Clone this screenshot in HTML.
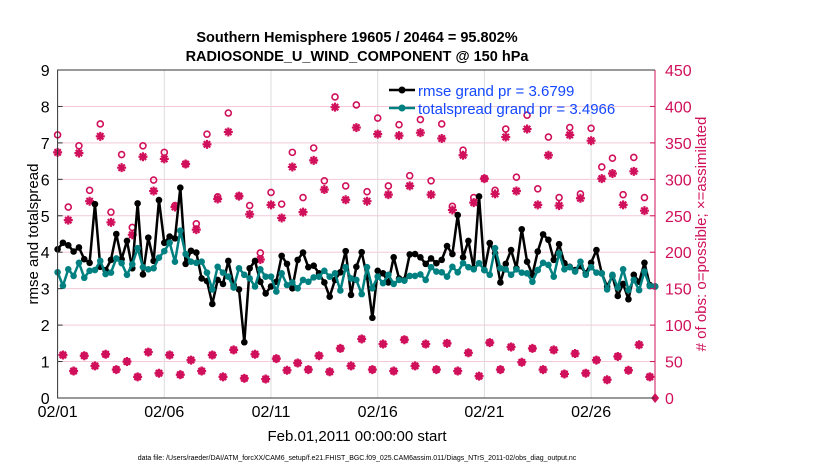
<!DOCTYPE html>
<html><head><meta charset="utf-8"><style>
body{margin:0;background:#fff;}
svg{display:block;font-family:"Liberation Sans",sans-serif;}
</style></head><body>
<svg id="chart" width="830" height="470" viewBox="0 0 830 470" xmlns="http://www.w3.org/2000/svg">
<text x="357" y="42" text-anchor="middle" font-size="14.5" font-weight="bold">Southern Hemisphere 19605 / 20464 = 95.802%</text>
<text x="357" y="61" text-anchor="middle" font-size="14.5" font-weight="bold">RADIOSONDE_U_WIND_COMPONENT @ 150 hPa</text>
<g id="grid"></g>
<g id="obs"></g>
<g id="lines"></g>
<g id="axes"></g>
<text transform="translate(38,234) rotate(-90)" text-anchor="middle" font-size="15">rmse and totalspread</text>
<text transform="translate(706,234) rotate(-90)" text-anchor="middle" font-size="15" fill="#d0105a"># of obs: o=possible; ×=assimilated</text>
<text x="357" y="441" text-anchor="middle" font-size="15">Feb.01,2011 00:00:00 start</text>
<text x="357" y="460" text-anchor="middle" font-size="7">data file: /Users/raeder/DAI/ATM_forcXX/CAM6_setup/f.e21.FHIST_BGC.f09_025.CAM6assim.011/Diags_NTrS_2011-02/obs_diag_output.nc</text>
<g id="legend">
<line x1="389" y1="90" x2="415" y2="90" stroke="#000" stroke-width="2.5"/>
<circle cx="402" cy="90" r="3.5" fill="#000"/>
<text x="418" y="96" font-size="15" fill="#1447ff">rmse grand pr = 3.6799</text>
<line x1="389" y1="108" x2="415" y2="108" stroke="#008080" stroke-width="2.5"/>
<circle cx="402" cy="108" r="3.5" fill="#008080"/>
<text x="418" y="114" font-size="15" fill="#1447ff">totalspread grand pr = 3.4966</text>
</g>
</svg>
<script>
const xTickLabels = ["02/01","02/06","02/11","02/16","02/21","02/26"];
const yLeftTicks = [0,1,2,3,4,5,6,7,8,9];
const yRightTicks = [0,50,100,150,200,250,300,350,400,450];
const rmse = [4.08,4.26,4.19,4.02,4.13,3.81,3.71,5.32,3.6,3.51,3.79,4.5,3.81,4.31,3.56,5.34,3.39,4.4,3.76,5.43,4.26,4.43,4.38,5.77,3.68,4.04,3.99,3.28,3.21,2.58,3.24,3.13,3.76,3.1,2.98,1.53,3.56,3.76,3.19,
2.87,3.06,3.19,3.9,3.68,3.01,3.79,3.99,3.59,3.63,3.42,3.17,2.78,3.24,3.45,4.03,2.83,3.6,4.0,3.33,2.2,3.49,3.42,3.17,3.86,3.28,3.24,3.94,3.95,3.86,3.68,3.83,3.7,3.79,4.17,3.95,5.02,3.86,
4.31,3.56,5.53,3.51,4.25,3.97,3.17,3.68,4.06,3.56,4.63,3.74,3.38,4.02,4.49,4.34,3.79,4.22,3.7,3.6,3.51,3.62,3.42,3.71,4.06,3.42,3.06,3.35,2.8,3.13,2.71,3.38,3.19,3.71,3.1,3.06];
const totalspread = [3.45,3.08,3.53,3.35,3.71,3.3,3.49,3.51,3.76,3.4,3.44,3.83,3.7,3.38,3.67,4.11,3.59,3.53,3.56,3.85,4.03,4.26,3.74,4.59,3.95,3.74,3.71,3.74,3.44,2.98,3.6,3.44,3.33,3.03,3.56,3.38,3.28,3.06,3.53,
3.33,3.33,2.92,3.42,3.1,3.17,3.01,3.24,3.19,3.31,3.33,3.49,3.33,3.42,2.95,3.59,3.28,3.24,2.85,3.59,3.01,3.33,3.15,3.38,3.13,3.24,3.22,3.35,3.35,3.39,3.24,3.59,3.47,3.45,3.33,3.6,3.45,3.7,
3.59,3.53,3.7,3.51,3.38,4.11,3.56,3.53,3.38,3.53,3.44,3.42,3.19,3.51,3.71,3.65,3.33,3.97,3.53,3.59,3.47,3.74,3.38,3.59,3.44,3.42,2.98,3.38,3.03,3.53,2.96,3.24,2.96,3.47,3.07,3.06];
const obsPossible = [361,59,262,37,346,58,285,44,376,60,255,39,334,50,234,29,346,63,299,34,337,59,264,32,321,52,239,37,362,59,276,29,391,66,277,27,264,60,199,26,282,54,266,38,337,48,275,39,343,58,298,36,413,68,291,44,402,81,283,39,384,74,291,37,375,80,305,44,382,74,298,39,376,75,263,37,340,62,275,30,301,76,285,39,369,70,303,49,388,68,287,39,358,66,275,33,371,61,280,34,370,52,317,25,329,57,279,38,330,73,275,29,0];
const obsAssimilated = [337,59,244,37,336,58,270,44,359,60,241,39,316,50,224,29,331,63,284,34,328,59,262,32,321,52,231,37,348,59,273,29,365,66,277,27,252,60,190,26,265,54,247,38,317,48,255,39,326,58,286,36,399,68,272,44,371,81,270,39,362,74,279,37,360,80,291,44,364,74,279,39,356,75,258,37,333,62,268,30,301,76,280,39,358,70,284,49,369,68,265,39,333,66,264,33,361,61,274,34,353,52,301,25,308,57,265,38,311,73,257,29,0];
const stepDays = 0.25;

const NS = "http://www.w3.org/2000/svg";
const X0 = 57.6, X1 = 655, Y0 = 398, Y1 = 70;
const dayPx = 21.34;
function xScale(day){ return X0 + day*dayPx; }
function yLeft(v){ return Y0 - v*(Y0-Y1)/9; }
function yRight(n){ return Y0 - n*(Y0-Y1)/450; }
function mk(tag, attrs, parent){ const e=document.createElementNS(NS,tag); for(const k in attrs) e.setAttribute(k,attrs[k]); parent.appendChild(e); return e; }
const MAG = "#d0105a";
const grid = document.getElementById('grid'), axes=document.getElementById('axes'), obs=document.getElementById('obs'), lines=document.getElementById('lines');

yLeftTicks.forEach(v=>{
  if(v>0 && v<9){ const g=mk('line',{x1:X0,x2:X1,y1:yLeft(v),y2:yLeft(v),stroke:'#f3c9d8','stroke-width':1},grid);
    }
  const t=mk('text',{x:X0-8,y:yLeft(v)+6,'text-anchor':'end','font-size':16},axes); t.textContent=v;
   
  mk('line',{x1:X0,x2:X0+5,y1:yLeft(v),y2:yLeft(v),stroke:'#333'},axes);
});
yRightTicks.forEach(n=>{
  const t=mk('text',{x:X1+10,y:yRight(n)+6,'font-size':16,fill:MAG},axes); t.textContent=n;
   
  mk('line',{x1:X1-5,x2:X1,y1:yRight(n),y2:yRight(n),stroke:MAG},axes);
});
xTickLabels.forEach((lab,i)=>{
  const x=xScale(i*5);
  if(i>0){ const g=mk('line',{x1:x,x2:x,y1:Y1,y2:Y0,stroke:'#dcdcdc'},grid);
    }
  const t=mk('text',{x:x,y:417,'text-anchor':'middle','font-size':16},axes); t.textContent=lab;
   
});
const frameL=mk('path',{d:`M${X1} ${Y1} H${X0} V${Y0} H${X1}`,fill:'none',stroke:'#333','stroke-width':1},axes);
 
const rAx=mk('line',{x1:X1,x2:X1,y1:Y1,y2:Y0,stroke:MAG,'stroke-width':1},axes);
 

// obs markers
obsPossible.forEach((n,i)=>{
  const x=xScale(i*stepDays);
  const a=obsAssimilated[i];
  if(n===0 && a===0){
    const d=mk('path',{d:`M${x} ${yRight(0)-5} L${x+4} ${yRight(0)} L${x} ${yRight(0)+5} L${x-4} ${yRight(0)} Z`,fill:MAG},obs);
     
    return;
  }
  const c=mk('circle',{cx:x,cy:yRight(n),r:3,fill:'none',stroke:MAG,'stroke-width':1.6},obs);
   
  const y=yRight(a), r=4.5;
  let d=''; for(let k=0;k<4;k++){ const ang=k*Math.PI/4; d+=`M${x-r*Math.cos(ang)} ${y-r*Math.sin(ang)} L${x+r*Math.cos(ang)} ${y+r*Math.sin(ang)} `; }
  const s=mk('path',{d:d,stroke:MAG,'stroke-width':2.2,fill:'none'},obs);
   
});

function drawSeries(vals,color,name){
  const pts=vals.map((v,i)=>`${xScale(i*stepDays).toFixed(2)},${yLeft(v).toFixed(2)}`).join(' ');
  const pl=mk('polyline',{points:pts,fill:'none',stroke:color,'stroke-width':2.5,'stroke-linejoin':'round'},lines);
   
  vals.forEach((v,i)=>{
    const c=mk('circle',{cx:xScale(i*stepDays),cy:yLeft(v),r:3.3,fill:color},lines);
     
  });
}
drawSeries(rmse,'#000','rmse');
drawSeries(totalspread,'#008080','totalspread');
</script>
</body></html>
